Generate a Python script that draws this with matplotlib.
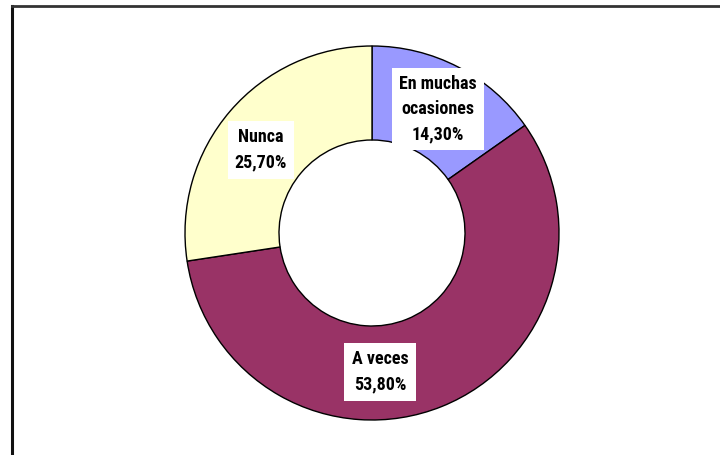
import matplotlib.pyplot as plt
from matplotlib.lines import Line2D

labels = ["En muchas\nocasiones", "A veces", "Nunca"]
values = [14.3, 53.8, 25.7]
colors = ["#9999FF", "#993366", "#FFFFCC"]

# where each label box sits, in pixel coords of the figure
label_pos = [(438, 346), (380, 83), (261, 305)]

plt.rcParams['font.family'] = ['Roboto Condensed', 'DejaVu Sans']

fig = plt.figure(figsize=(7.2, 4.55), dpi=100)
ax = fig.add_axes([0, 0, 1, 1])

wedges, _ = ax.pie(values, colors=colors, startangle=90, counterclock=False,
                   center=(372, 222), radius=187,
                   wedgeprops=dict(width=94, edgecolor='black', linewidth=1.0))
ax.set_xlim(0, 720)
ax.set_ylim(0, 455)
ax.set_aspect('equal')
ax.axis('off')

for name, val, (x, y) in zip(labels, values, label_pos):
    txt = f"{name}\n{val:.2f}%".replace('.', ',')
    ax.text(x, y, txt, ha='center', va='center', fontsize=13, fontweight='bold',
            linespacing=1.5,
            bbox=dict(boxstyle='square,pad=0.4', facecolor='white', edgecolor='none'))

# chart-area frame, only the top and left edges fall inside the image
fig.add_artist(Line2D([11.5 / 720, 11.5 / 720], [0, 449 / 455], color='#111111', linewidth=2.2))
fig.add_artist(Line2D([11.5 / 720, 1.01], [449 / 455, 449 / 455], color='#333333', linewidth=2.0))

fig.savefig('out.png', dpi=100)
